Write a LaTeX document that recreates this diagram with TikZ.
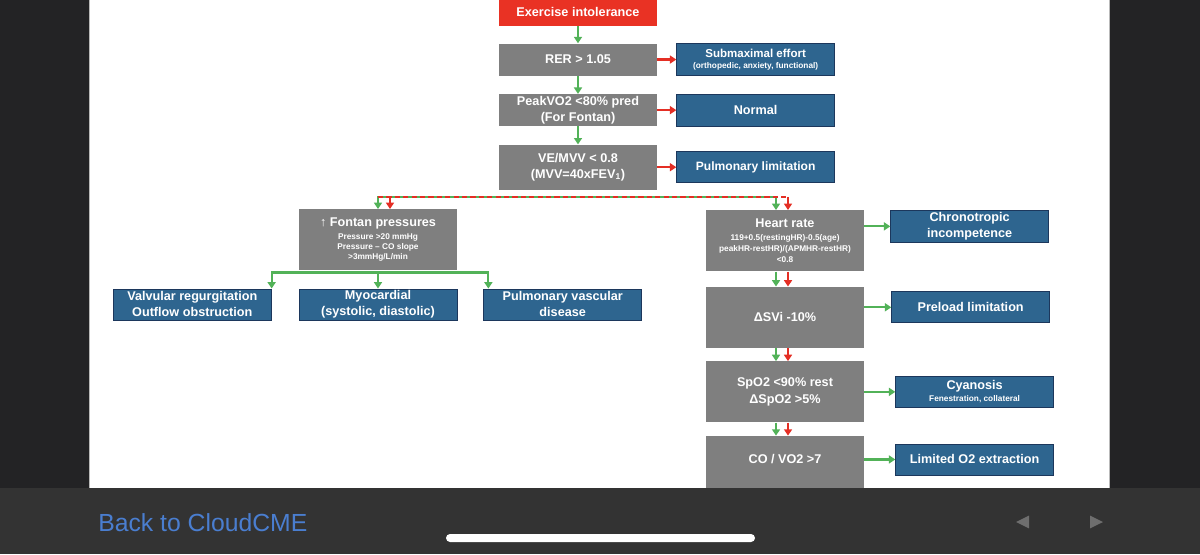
\documentclass[tikz,border=0pt]{standalone}
\usepackage{fontspec}
\setmainfont{Liberation Sans}
\usetikzlibrary{arrows.meta,positioning,calc}
\definecolor{flowred}{RGB}{233,50,36}
\definecolor{flowgray}{RGB}{127,127,127}
\definecolor{flowblue}{RGB}{46,101,143}
\definecolor{flowblueedge}{RGB}{28,55,92}
\definecolor{flowgreen}{RGB}{82,178,88}
\definecolor{arrowred}{RGB}{228,46,36}
\definecolor{barbg}{RGB}{51,51,51}
\definecolor{framebg}{RGB}{35,35,37}
\definecolor{linkblue}{RGB}{74,126,208}
\definecolor{navgray}{RGB}{110,110,110}
\newcommand{\subtxt}{\fontsize{5.9}{7.4}\selectfont}
\tikzset{
  box/.style={rectangle, minimum width=39.5mm, minimum height=8mm, inner xsep=0.8mm,
              inner ysep=0.3mm, align=center, text=white,
              font=\fontsize{9}{11.4}\selectfont\bfseries},
  startbox/.style={box, fill=flowred},
  testbox/.style={box, fill=flowgray},
  resultbox/.style={box, fill=flowblue, draw=flowblueedge, line width=0.5pt},
  yesarrow/.style={-{Triangle[length=1.6mm,width=2mm]}, line width=0.55mm, draw=flowgreen},
  yesboth/.style={yesarrow, {Triangle[length=1.6mm,width=2mm]}-{Triangle[length=1.6mm,width=2mm]}},
  noarrow/.style={yesarrow, draw=arrowred},
  nodash/.style={line width=0.55mm, draw=arrowred, dash pattern=on 1.3mm off 0.8mm},
}
\begin{document}
\begin{tikzpicture}[node distance=4mm]
\useasboundingbox (0,0) rectangle (300mm,-138.5mm);
\fill[white] (0,0) rectangle (300mm,-138.5mm);

% ============================ main column =============================
\node[startbox, minimum height=7mm] (intol) at (144.5mm,-3mm) {Exercise intolerance};
\node[testbox, below=4.25mm of intol] (rer) {RER > 1.05};
\node[testbox, below=4.5mm of rer] (peak) {PeakVO2 <80\% pred\\(For Fontan)};
\node[testbox, below=4.5mm of peak, minimum height=11.25mm] (vemvv)
  {VE/MVV < 0.8\\(MVV=40xFEV\textsubscript{1})};

\node[resultbox, right=4.75mm of rer, font=\fontsize{8.2}{9.6}\selectfont\bfseries] (submax)
  {Submaximal effort\\[-0.6mm]{\subtxt (orthopedic, anxiety, functional)}};
\node[resultbox, right=4.75mm of peak] (normal) {Normal};
\node[resultbox, right=4.75mm of vemvv, minimum height=7.75mm,
      font=\fontsize{8.6}{10}\selectfont\bfseries] (pulmlim) {Pulmonary limitation};

\draw[yesarrow] (intol) -- (rer);
\draw[yesarrow] (rer) -- (peak);
\draw[yesarrow] (peak) -- (vemvv);
\draw[noarrow] (rer) -- (submax);
\draw[noarrow] (peak) -- (normal);
\draw[noarrow] (vemvv) -- (pulmlim);

% ============================ Fontan branch ===========================
\node[testbox, below=4.75mm of vemvv, xshift=-50mm, minimum height=15.25mm] (fontan)
  {{\mdseries ↑} Fontan pressures\\[-0.75mm]\subtxt Pressure >20 mmHg\\[-1.5mm]\subtxt Pressure – CO slope\\[-1.5mm]\subtxt >3mmHg/L/min};
\node[resultbox, below=4.5mm of fontan, minimum height=7.75mm] (myo)
  {Myocardial\\(systolic, diastolic)};
\node[resultbox, left=6.75mm of myo, minimum height=7.75mm] (valv)
  {Valvular regurgitation\\Outflow obstruction};
\node[resultbox, right=6.5mm of myo, minimum height=7.75mm] (pulmvasc)
  {Pulmonary vascular\\disease};

\coordinate (fan) at ($(fontan.south)+(0,-0.5mm)$);
\draw[yesarrow] (fan) -| (valv.north east);
\draw[yesarrow] (fan) -- (myo.north);
\draw[yesarrow] (fan) -| ([xshift=1.25mm]pulmvasc.north west);

% ============================ heart-rate branch =======================
\node[testbox, below=5mm of vemvv, xshift=51.75mm, minimum height=15.25mm] (heart)
  {Heart rate\\[-0.75mm]\subtxt 119+0.5(restingHR)-0.5(age)\\[-1.25mm]\subtxt peakHR-restHR)/(APMHR-restHR)\\[-1.25mm]\subtxt <0.8};
\node[testbox, below=3.75mm of heart, minimum height=15.25mm] (svi) {ΔSVi -10\%};
\node[testbox, below=3.25mm of svi, minimum height=15.25mm] (spo2) {SpO2 <90\% rest\\ΔSpO2 >5\%};
\node[testbox, below=3.25mm of spo2, minimum height=15.25mm, text depth=4mm] (covo2) {CO / VO2 >7};

\node[resultbox, right=6.5mm of heart, yshift=3.6mm] (chrono) {Chronotropic\\incompetence};
\node[resultbox, right=6.75mm of svi, yshift=2.5mm, minimum height=7.75mm] (preload) {Preload limitation};
\node[resultbox, right=7.75mm of spo2, minimum height=7.75mm] (cyan)
  {Cyanosis\\[-1mm]{\subtxt Fenestration, collateral}};
\node[resultbox, right=7.75mm of covo2, yshift=1.75mm, minimum height=7.75mm] (limo2) {Limited O2 extraction};

\draw[yesarrow] (heart.east |- chrono) -- (chrono);
\draw[yesarrow] (svi.east |- preload) -- (preload);
\draw[yesarrow] (spo2) -- (cyan);
\draw[yesarrow] (covo2.east |- limo2) -- (limo2);

% green and red pairs down the right column
\draw[yesarrow] ([xshift=-2.25mm]heart.south) -- ([xshift=-2.25mm]svi.north);
\draw[noarrow] ([xshift=0.75mm]heart.south) -- ([xshift=0.75mm]svi.north);
\draw[yesarrow] ([xshift=-2.25mm]svi.south) -- ([xshift=-2.25mm]spo2.north);
\draw[noarrow] ([xshift=0.75mm]svi.south) -- ([xshift=0.75mm]spo2.north);
\draw[yesarrow] ([xshift=-2.25mm]spo2.south) -- ([xshift=-2.25mm]covo2.north);
\draw[noarrow] ([xshift=0.75mm]spo2.south) -- ([xshift=0.75mm]covo2.north);

% split under VE/MVV: green line with red dashes laid over it
\coordinate (split) at ($(vemvv.south)+(0,-1.75mm)$);
\draw[yesboth] (fontan.north) -- (fontan.north |- split)
  -- ([xshift=-2.25mm]heart.north |- split) -- ([xshift=-2.25mm]heart.north);
\draw[nodash] (fontan.north |- split) -- ([xshift=0.75mm]heart.north |- split);
\draw[noarrow] ([xshift=3mm]fontan.north |- split) -- ([xshift=3mm]fontan.north);
\draw[noarrow] ([xshift=0.75mm]heart.north |- split) -- ([xshift=0.75mm]heart.north);

% ============================ viewer frame ============================
\fill[framebg] (0,0) rectangle (22.25mm,-122mm);
\fill[framebg] (277.5mm,0) rectangle (300mm,-122mm);
\draw[gray!55, line width=0.3mm] (22.3mm,0) -- (22.3mm,-122mm);
\draw[gray!55, line width=0.3mm] (277.45mm,0) -- (277.45mm,-122mm);
\fill[barbg] (0,-122mm) rectangle (300mm,-138.5mm);
\node[font=\fontsize{17.6}{20}\selectfont, text=linkblue, anchor=base west, inner sep=0]
  (backlink) at (24.5mm,-132.75mm) {Back to CloudCME};
\fill[white, rounded corners=1mm] (111.5mm,-133.5mm) rectangle (188.75mm,-135.5mm);
\fill[navgray] (254mm,-130.5mm) -- (257.25mm,-128.9mm) -- (257.25mm,-132.1mm) -- cycle;
\fill[navgray] (275.75mm,-130.5mm) -- (272.5mm,-128.9mm) -- (272.5mm,-132.1mm) -- cycle;

\end{tikzpicture}
\end{document}
